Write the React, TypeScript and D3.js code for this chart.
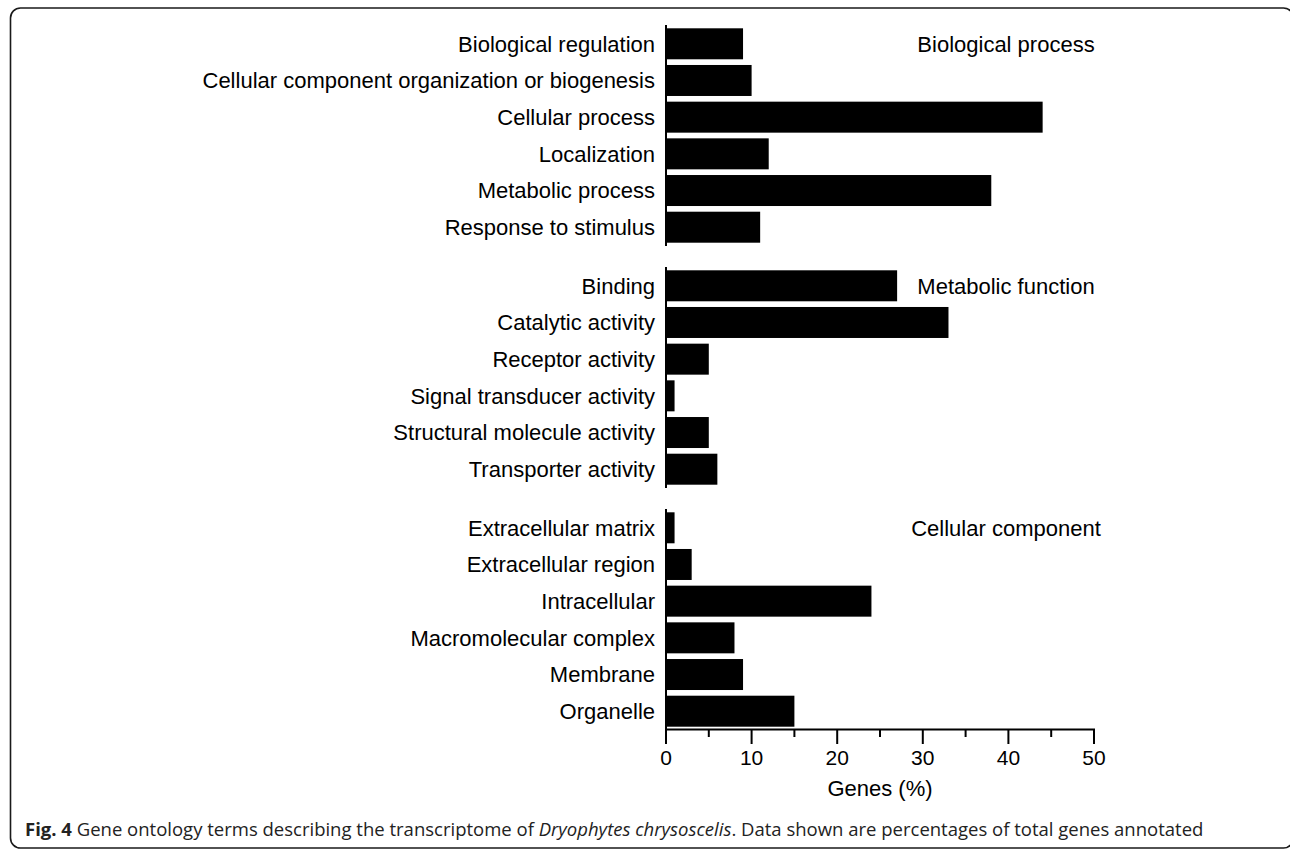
import React from "react";
import * as d3 from "d3";

const groupTitles = ["Biological process", "Metabolic function", "Cellular component"];

const bioLabels = [
  "Biological regulation",
  "Cellular component organization or biogenesis",
  "Cellular process",
  "Localization",
  "Metabolic process",
  "Response to stimulus",
];
const bioValues = [9, 10, 44, 12, 38, 11];

const molLabels = [
  "Binding",
  "Catalytic activity",
  "Receptor activity",
  "Signal transducer activity",
  "Structural molecule activity",
  "Transporter activity",
];
const molValues = [27, 33, 5, 1, 5, 6];

const cellLabels = [
  "Extracellular matrix",
  "Extracellular region",
  "Intracellular",
  "Macromolecular complex",
  "Membrane",
  "Organelle",
];
const cellValues = [1, 3, 24, 8, 9, 15];

const xTicks = [0, 10, 20, 30, 40, 50];
const xMinorTicks = [5, 15, 25, 35, 45];
const xTitle = "Genes (%)";

const W = 1290;
const H = 850;
const FONT = "'Liberation Sans', Arial, Helvetica, sans-serif";

export default function App() {
  const x = d3.scaleLinear().domain([0, 50]).range([666, 1094]);
  const groups = [
    { title: groupTitles[0], labels: bioLabels, values: bioValues },
    { title: groupTitles[1], labels: molLabels, values: molValues },
    { title: groupTitles[2], labels: cellLabels, values: cellValues },
  ];
  const groupTop0 = 25;
  const groupPitch = 242;
  const groupHeight = 221;
  const axisY = 729.5;

  return (
    <div style={{ position: "absolute", left: 0, top: 0, width: W, height: H }}>
      <svg width={W} height={H} style={{ display: "block" }}>
        <rect x={0} y={0} width={W} height={H} fill="#fff" />
        <rect
          x={10.5}
          y={8}
          width={1283}
          height={840}
          rx={10}
          ry={10}
          fill="none"
          stroke="#1a1a1a"
          strokeWidth={1.6}
        />
        {groups.map((g, gi) => {
          const top = groupTop0 + gi * groupPitch;
          const bottom = gi === 2 ? axisY : top + groupHeight;
          const y = d3
            .scaleBand<string>()
            .domain(g.labels)
            .range([top, top + groupHeight])
            .paddingInner(0.155)
            .paddingOuter(0.09);
          return (
            <g key={gi}>
              {g.labels.map((lab, i) => (
                <g key={lab}>
                  <rect
                    x={x(0)}
                    y={y(lab)!}
                    width={x(g.values[i]) - x(0)}
                    height={y.bandwidth()}
                    fill="#000"
                  />
                  <text
                    x={655}
                    y={y(lab)! + y.bandwidth() / 2}
                    dy="0.36em"
                    textAnchor="end"
                    fontFamily={FONT}
                    fontSize={22}
                    fill="#000"
                  >
                    {lab}
                  </text>
                </g>
              ))}
              <line x1={x(0)} x2={x(0)} y1={top} y2={bottom} stroke="#000" strokeWidth={2} />
              <text
                x={1006}
                y={top + 26.5}
                textAnchor="middle"
                fontFamily={FONT}
                fontSize={22}
                fill="#000"
              >
                {g.title}
              </text>
            </g>
          );
        })}
        <line x1={x(0) - 1} x2={x(50) + 1} y1={axisY} y2={axisY} stroke="#000" strokeWidth={2} />
        {xTicks.map((t) => (
          <g key={t}>
            <line x1={x(t)} x2={x(t)} y1={axisY} y2={744} stroke="#000" strokeWidth={2} />
            <text
              x={x(t)}
              y={765}
              textAnchor="middle"
              fontFamily={FONT}
              fontSize={21}
              fill="#000"
            >
              {t}
            </text>
          </g>
        ))}
        {xMinorTicks.map((t) => (
          <line key={t} x1={x(t)} x2={x(t)} y1={axisY} y2={737} stroke="#000" strokeWidth={2} />
        ))}
        <text x={880} y={796} textAnchor="middle" fontFamily={FONT} fontSize={22} fill="#000">
          {xTitle}
        </text>
        <text x={25} y={835.5} fontFamily="'Open Sans', 'Noto Sans', sans-serif" fontSize={18.5} fill="#222">
          <tspan fontWeight="bold">Fig. 4</tspan>
          <tspan> Gene ontology terms describing the transcriptome of </tspan>
          <tspan fontStyle="italic">Dryophytes chrysoscelis</tspan>
          <tspan>. Data shown are percentages of total genes annotated</tspan>
        </text>
      </svg>
    </div>
  );
}
